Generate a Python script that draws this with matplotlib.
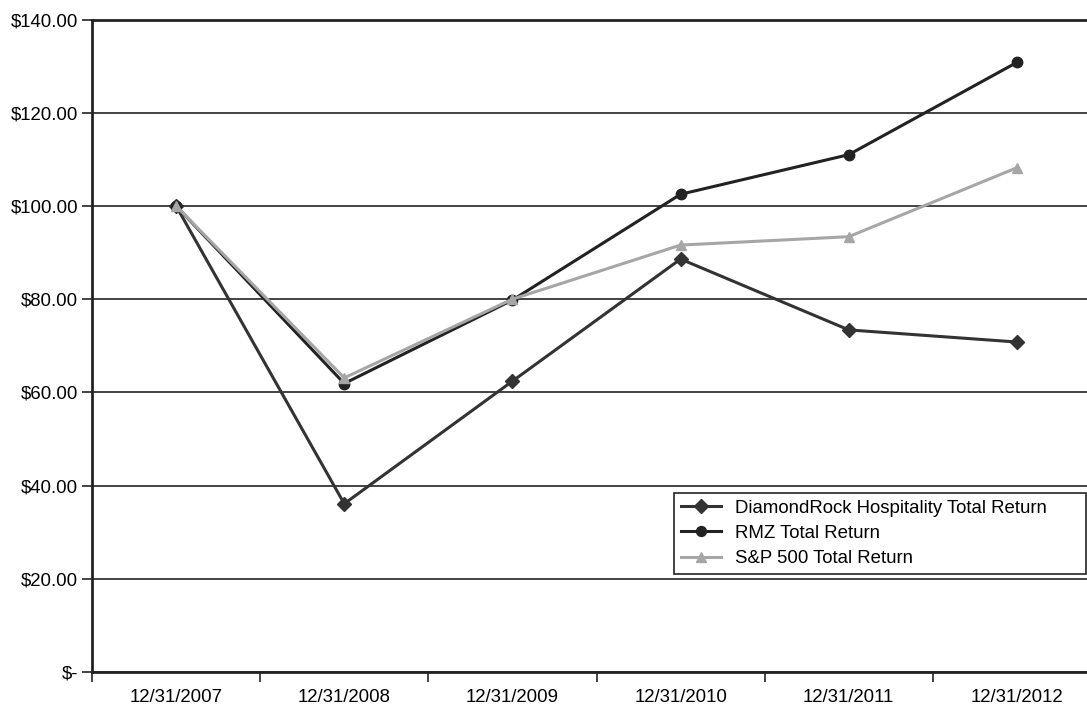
import matplotlib
matplotlib.use("Agg")
import matplotlib.pyplot as plt
from matplotlib.ticker import FuncFormatter

dates = ["12/31/2007", "12/31/2008", "12/31/2009", "12/31/2010", "12/31/2011", "12/31/2012"]
diamondrock = [100.0, 36.1, 62.4, 88.6, 73.4, 70.8]
rmz = [100.0, 61.9, 79.8, 102.5, 111.0, 130.8]
sp500 = [100.0, 63.1, 80.0, 91.6, 93.4, 108.2]
yticks = [0, 20, 40, 60, 80, 100, 120, 140]

plt.rcParams['font.family'] = ['Liberation Sans', 'DejaVu Sans']

fig = plt.figure(figsize=(10.87, 7.04), dpi=100)
W, H = 1087, 704
left, right, top, bottom = 92, 1101, 19.5, 672
ax = fig.add_axes([left / W, 1 - bottom / H, (right - left) / W, (bottom - top) / H])

x = list(range(len(dates)))
ax.plot(x, diamondrock, color='#333333', lw=2.2, marker='D', ms=7.5,
        label='DiamondRock Hospitality Total Return', zorder=3)
ax.plot(x, rmz, color='#222222', lw=2.2, marker='o', ms=7.5,
        label='RMZ Total Return', zorder=4)
ax.plot(x, sp500, color='#a6a6a6', lw=2.2, marker='^', ms=7.5,
        label='S&P 500 Total Return', zorder=5)

ax.set_xlim(-0.5, len(dates) - 0.5)
ax.set_ylim(0, 140)
ax.set_yticks(yticks)
ax.yaxis.set_major_formatter(FuncFormatter(lambda v, p: '$-' if v == 0 else f'${v:,.2f}'))
ax.set_xticks(x)
ax.set_xticklabels(dates)
ax.set_xticks([i - 0.5 for i in range(len(dates) + 1)], minor=True)
ax.tick_params(axis='x', which='major', length=0, pad=12, labelsize=13.4)
ax.tick_params(axis='x', which='minor', length=7, width=1.2, color='#222222', direction='out')
ax.tick_params(axis='y', length=7, width=1.2, color='#222222', labelsize=13.4, pad=3)

ax.grid(axis='y', color='#222222', lw=1.2)
ax.set_axisbelow(True)
ax.spines['right'].set_visible(False)
for s in ['top', 'left', 'bottom']:
    ax.spines[s].set_color('#222222')
    ax.spines[s].set_linewidth(2)

# legend box in pixel coords: x 674..1086, top 493
bx0 = (674 - left) / (right - left)
bw = (1086 - 674) / (right - left)
by1 = 1 - (493 - top) / (bottom - top)
leg = ax.legend(loc='upper left', bbox_to_anchor=(bx0, by1 - 0.2, bw, 0.2), mode='expand',
                frameon=True, fancybox=False, edgecolor='#222222', framealpha=1,
                fontsize=13.4, handlelength=2.2, handletextpad=0.75, borderpad=0.35,
                labelspacing=0.45, borderaxespad=0, markerscale=0.95)
leg.get_frame().set_linewidth(1.2)

fig.savefig('out.png', dpi=100)
